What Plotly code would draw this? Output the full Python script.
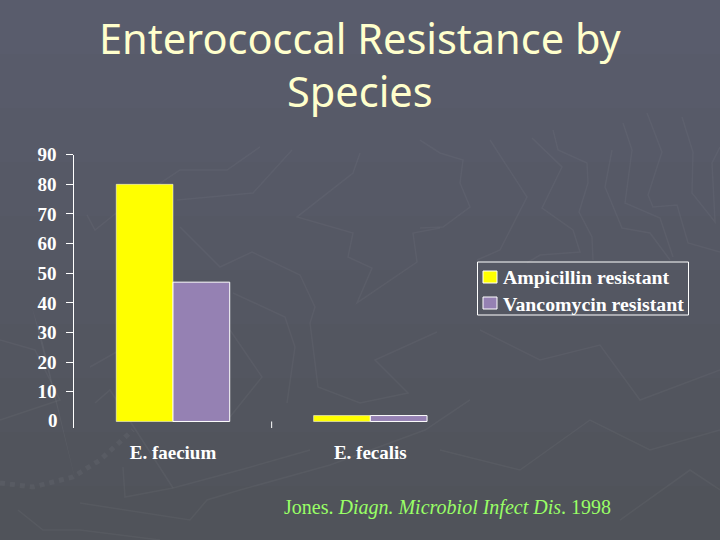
import plotly.graph_objects as go

categories = ["E. faecium", "E. fecalis"]
series_names = ["Ampicillin resistant", "Vancomycin resistant"]
ampicillin = [80, 2]
vancomycin = [47, 2]
y_ticks = [10, 20, 30, 40, 50, 60, 70, 80, 90]
title_lines = ["Enterococcal Resistance by", "Species"]
source_text = "Jones. <i>Diagn. Microbiol Infect Dis</i>. 1998"

W, H = 720, 540
SERIF = "Liberation Serif"
YELLOW, PURPLE = "#FFFF00", "#9581B3"
px = lambda v: v / W
py = lambda v: 1 - v / H

squiggles = [
    [(420,140),(440,153),(463,160),(460,183),(470,207),(443,227),(420,228)],
    [(490,140),(527,197),(500,250),(477,260)],
    [(532,138),(562,167),(542,208),(573,230),(580,252),(540,255),(527,263)],
    [(553,130),(558,150),(587,163),(588,183),(579,212),(592,237),(593,260)],
    [(623,123),(632,150),(625,203),(660,218),(673,257)],
    [(612,150),(605,187),(622,228),(650,233),(670,260)],
    [(647,113),(662,152),(648,195),(653,207),(677,205),(688,243),(720,252)],
    [(682,117),(693,152),(692,193),(715,222),(712,163),(720,147)],
    [(233,293),(285,317),(295,347),(287,403)],
    [(177,200),(253,193),(292,150)],
    [(87,215),(95,230),(120,210),(180,170),(227,170),(260,147)],
    [(180,227),(220,267),(252,252),(300,275),(315,307),(310,323),(318,387),(360,403),(408,393),(375,360),(437,332)],
    [(360,153),(353,173),(297,217),(353,233),(348,257),(372,268),(357,303),(417,262),(413,233),(440,228)],
    [(230,330),(262,377),(230,417)],
    [(90,367),(120,350)],
    [(80,503),(190,520),(207,500),(240,490),(330,465),(425,430),(470,400)],
    [(123,467),(125,497),(173,488),(240,470),(310,450)],
    [(95,403),(110,390),(173,488)],
    [(18,510),(43,530),(80,530),(160,540)],
    [(480,330),(540,360),(600,345),(640,400),(720,370)],
    [(440,450),(520,470),(590,420),(650,450),(720,430)],
    [(620,520),(690,470),(720,490)],
    [(0,340),(35,350),(60,400),(0,420)],
]
shapes = [
    dict(type="rect", xref="paper", yref="paper", x0=0, x1=1,
         y0=py((i + 1) * 54), y1=py(i * 54), layer="below", line=dict(width=0),
         fillcolor=f"rgb({89 - i},{92 - i},{108 - 2 * i})")
    for i in range(10)
]
for pts in squiggles:
    path = "M " + " L ".join(f"{px(x):.4f},{py(y):.4f}" for x, y in pts)
    shapes.append(dict(type="path", xref="paper", yref="paper", path=path,
                       line=dict(color="rgba(255,255,255,0.04)", width=1.5), layer="below"))
# faint compass rose, lower left
shapes.append(dict(type="path", xref="paper", yref="paper", layer="below",
                   path="M " + " L ".join(f"{px(x):.4f},{py(y):.4f}" for x, y in
                                          [(0,483),(33,487),(73,477),(100,460),(133,430)]),
                   line=dict(color="rgba(255,255,255,0.045)", width=5, dash="dot")))
shapes.append(dict(type="path", xref="paper", yref="paper", layer="below",
                   path="M " + " L ".join(f"{px(x):.4f},{py(y):.4f}" for x, y in
                                          [(32,307),(77,487),(43,343)]) + " Z",
                   fillcolor="rgba(255,255,255,0.05)", line=dict(width=0)))
# category divider tick below zero
shapes.append(dict(type="line", xref="x", yref="y", x0=0.5, x1=0.5, y0=-2.2, y1=0,
                   line=dict(color="white", width=1)))
# legend box and swatches
shapes.append(dict(type="rect", xref="paper", yref="paper", x0=px(477.5), x1=px(688.5),
                   y0=py(315), y1=py(262), line=dict(color="white", width=1)))
for c, (top, bottom) in zip([YELLOW, PURPLE], [(271, 283), (297, 309)]):
    shapes.append(dict(type="rect", xref="paper", yref="paper", x0=px(483), x1=px(497),
                       y0=py(bottom), y1=py(top), fillcolor=c, line=dict(color="white", width=1)))

fig = go.Figure()
fig.add_bar(name=series_names[0], x=[0, 1], y=ampicillin,
            marker=dict(color=YELLOW, line=dict(color="white", width=0.5)))
fig.add_bar(name=series_names[1], x=[0, 1], y=vancomycin,
            marker=dict(color=PURPLE, line=dict(color="white", width=1)))

tick_font = dict(family=SERIF, size=19, color="white", weight="bold")
annotations = [
    dict(text=line, xref="paper", yref="paper", x=px(360), y=py(yc),
         xanchor="center", yanchor="middle", showarrow=False,
         font=dict(family="Noto Sans", size=41.5, color="#FFFFCC"))
    for line, yc in zip(title_lines, [38, 91])
]
annotations += [
    dict(text=source_text, xref="paper", yref="paper", x=px(447), y=py(507),
         xanchor="center", yanchor="middle", showarrow=False,
         font=dict(family=SERIF, size=20, color="#99FF66")),
    dict(text="0", xref="paper", yref="y", x=px(60), y=0.4, xanchor="right", yanchor="middle",
         showarrow=False, font=tick_font),
]
for name, yc in zip(series_names, [277, 304]):
    annotations.append(dict(text=name, xref="paper", yref="paper", x=px(501), y=py(yc),
                            xanchor="left", yanchor="middle", showarrow=False,
                            font=dict(family=SERIF, size=19.8, color="white", weight="bold")))

fig.update_layout(
    width=W, height=H, autosize=False,
    margin=dict(l=0, r=0, t=0, b=0, pad=0, autoexpand=False),
    paper_bgcolor="#555867", plot_bgcolor="rgba(0,0,0,0)",
    barmode="group", bargap=0.425, bargroupgap=0,
    showlegend=False,
    xaxis=dict(domain=[px(74.3), px(469)], range=[-0.5, 1.5], automargin=False,
               tickmode="array", tickvals=[0, 1], ticktext=categories,
               ticks="", showgrid=False, zeroline=False, showline=False,
               ticklabelstandoff=11, tickfont=tick_font),
    yaxis=dict(domain=[py(428), py(154.7)], range=[-2.2, 90], automargin=False,
               tickmode="array", tickvals=y_ticks,
               ticks="outside", ticklen=7, tickcolor="white", tickwidth=1,
               ticklabelstandoff=6,
               showgrid=False, zeroline=False, showline=True, linecolor="white", linewidth=1,
               tickfont=tick_font),
    shapes=shapes,
    annotations=annotations,
)
fig.write_html("out.html", config=dict(displayModeBar=False),
               post_script="document.body.style.margin='0';document.documentElement.style.overflow='hidden';")
